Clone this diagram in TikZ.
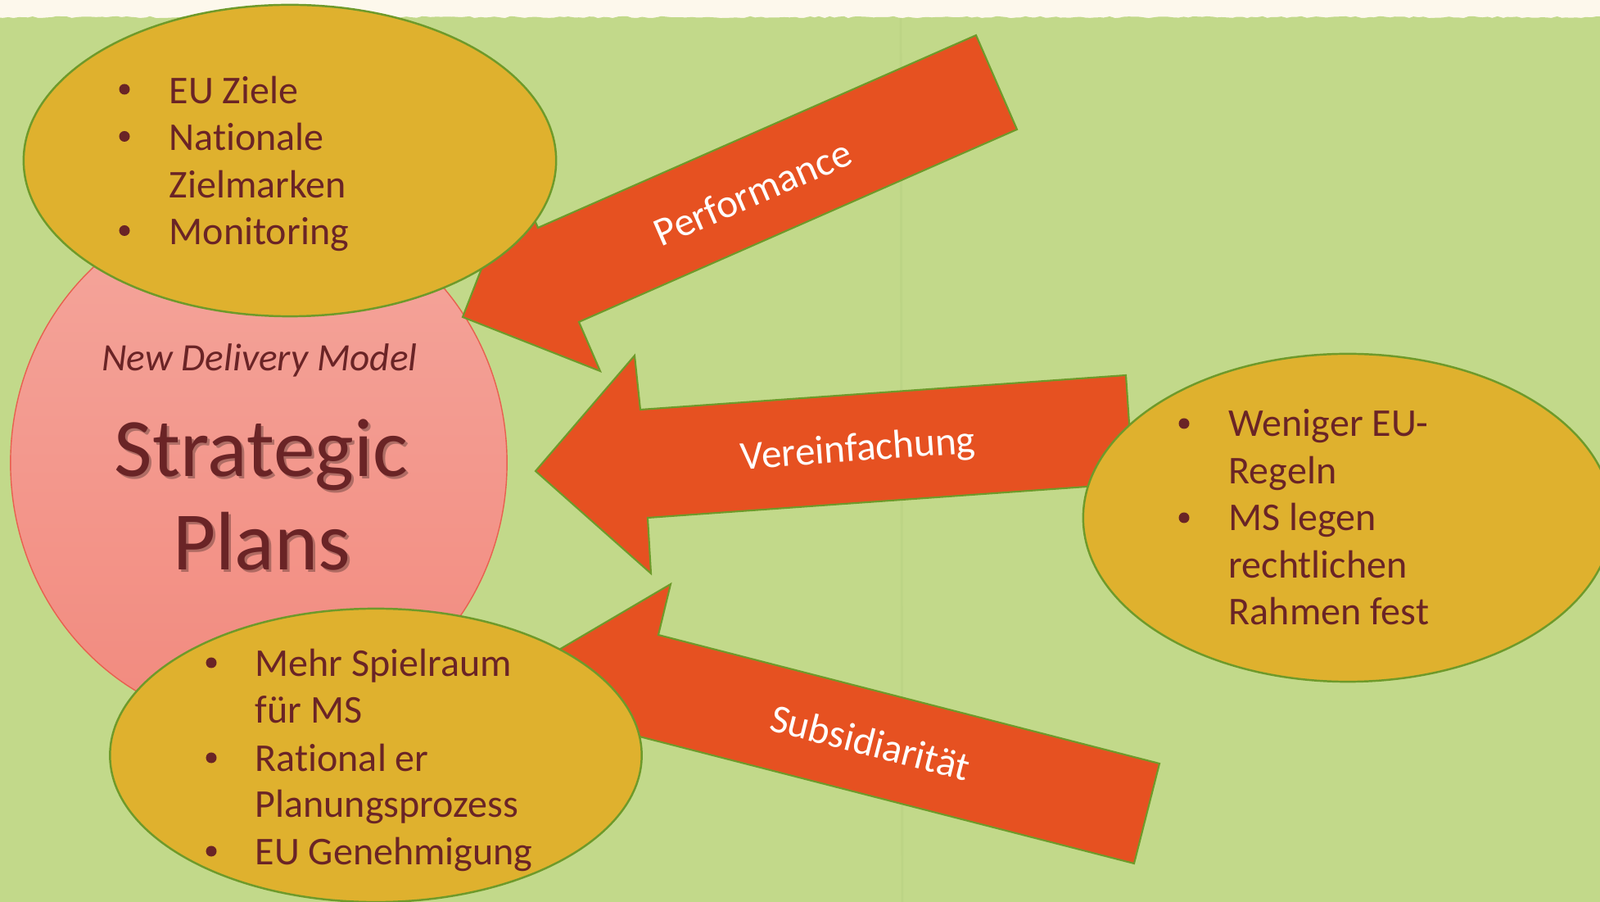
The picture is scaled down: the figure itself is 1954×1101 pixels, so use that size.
\documentclass[tikz,border=0pt]{standalone}
\usepackage{fontspec}
\setmainfont{Carlito}[Ligatures=NoCommon]
\usetikzlibrary{shapes.geometric,decorations.pathmorphing}
\definecolor{bggreen}{HTML}{C2D98A}
\definecolor{bgdark}{HTML}{9DB86A}
\definecolor{creamc}{HTML}{FDF8EC}
\definecolor{yellowc}{HTML}{DFB12E}
\definecolor{olivec}{HTML}{6E9A2A}
\definecolor{arrowc}{HTML}{E65121}
\definecolor{pinktop}{HTML}{F4A69C}
\definecolor{pinkbot}{HTML}{F28A7E}
\definecolor{pinkedge}{HTML}{E8604F}
\definecolor{maroonc}{HTML}{6A2426}
\begin{document}
\begin{tikzpicture}[x=0.01cm,y=-0.01cm,
  ybox/.style={ellipse, draw=olivec, line width=0.7pt, fill=yellowc, inner sep=0pt},
  arrowshape/.style={fill=arrowc, draw=olivec, line width=0.6pt, line join=miter},
  itemtxt/.style={anchor=base west, inner sep=0pt, text=maroonc, font=\fontsize{13.66}{16}\selectfont},
  bul/.style={circle, fill=maroonc, inner sep=0pt, minimum size=0.13cm},
  lbl/.style={inner sep=0pt, text=white, font=\fontsize{14}{16}\selectfont},
  bigtxt/.style={anchor=base, inner sep=0pt, text=maroonc, font=\fontsize{28.8}{32}\selectfont},
  shadowtxt/.style={anchor=base, inner sep=0pt, text=black, opacity=0.28, font=\fontsize{28.8}{32}\selectfont}]

\useasboundingbox (0,0) rectangle (1954,1101);
\clip (0,0) rectangle (1954,1101);
\fill[creamc] (0,0) rectangle (1954,1101);
\fill[bggreen, decorate, decoration={random steps, segment length=0.06cm, amplitude=0.012cm}]
  (-20,21) -- (1974,21) -- (1974,1130) -- (-20,1130) -- cycle;
\draw[bgdark, opacity=0.15, line width=0.8pt] (1100,22) -- (1102,1101);

% pink centre ellipse
\node[ellipse, minimum width=6.06cm, minimum height=6.4cm, inner sep=0pt,
      top color=pinktop, bottom color=pinkbot, draw=pinkedge, line width=0.4pt] (sp) at (316,565) {};

% Performance arrow
\coordinate (pT)  at (565,387);
\coordinate (pLB) at (733,453);
\coordinate (pLJ) at (707,393);
\coordinate (pTB) at (1242,158);
\coordinate (pTT) at (1192,43);
\coordinate (pUJ) at (657,278);
\coordinate (pUB) at (631,218);
\draw[arrowshape] (pT) -- (pLB) -- (pLJ) -- (pTB) -- (pTT) -- (pUJ) -- (pUB) -- cycle;

% Vereinfachung arrow
\coordinate (vT)  at (654,575);
\coordinate (vUB) at (775,434);
\coordinate (vUJ) at (782,500);
\coordinate (vTT) at (1375,458);
\coordinate (vTB) at (1384,590);
\coordinate (vLJ) at (791,632);
\coordinate (vLB) at (795,700);
\draw[arrowshape] (vT) -- (vUB) -- (vUJ) -- (vTT) -- (vTB) -- (vLJ) -- (vLB) -- cycle;

% Subsidiaritaet arrow
\coordinate (sT)  at (664,804);
\coordinate (sUB) at (819,713);
\coordinate (sUJ) at (804,775);
\coordinate (sTT) at (1416,932);
\coordinate (sTB) at (1385,1054);
\coordinate (sLJ) at (773,897);
\coordinate (sLB) at (756,959);
\draw[arrowshape] (sT) -- (sUB) -- (sUJ) -- (sTT) -- (sTB) -- (sLJ) -- (sLB) -- cycle;

% arrow labels
\node[lbl, rotate=23.5] (perf) at (919,235) {Performance};
\node[lbl, rotate=4.1] (verein) at (1048,550) {Vereinfachung};
\node[lbl, rotate=-14.4] (subs) at (1063,906) {Subsidiarität};

% centre texts
\node[anchor=base, inner sep=0pt, text=maroonc, font=\fontsize{13.45}{15}\selectfont\itshape] (ndm) at (317,453) {New Delivery Model};
\node[shadowtxt] (sh1) at (322,585) {Strategic};
\node[shadowtxt] (sh2) at (322.5,699) {Plans};
\node[bigtxt] (st1) at (319,582) {Strategic};
\node[bigtxt] (st2) at (319.5,696) {Plans};

% yellow ellipses
\node[ybox, minimum width=6.5cm, minimum height=3.8cm] (tl) at (354,196) {};
\node[ybox, minimum width=6.46cm, minimum height=4.0cm] (rt) at (1646,632) {};
\node[ybox, minimum width=6.49cm, minimum height=3.58cm] (bt) at (459,922) {};

% top-left texts
\node[bul] (tlb1) at (152,109) {};
\node[bul] (tlb2) at (152,166.5) {};
\node[bul] (tlb3) at (152,281.5) {};
\node[itemtxt] (tlt1) at (206,126.7) {EU Ziele};
\node[itemtxt] (tlt2) at (206,184) {Nationale};
\node[itemtxt] (tlt3) at (206,241.7) {Zielmarken};
\node[itemtxt] (tlt4) at (206,299) {Monitoring};

% right texts
\node[bul] (rtb1) at (1446,517) {};
\node[bul] (rtb2) at (1446,632) {};
\node[itemtxt] (rtt1) at (1500,533) {Weniger EU-};
\node[itemtxt] (rtt2) at (1500,591) {Regeln};
\node[itemtxt] (rtt3) at (1500,648) {MS legen};
\node[itemtxt] (rtt4) at (1500,706) {rechtlichen};
\node[itemtxt] (rtt5) at (1500,763) {Rahmen fest};

% bottom texts
\node[bul] (btb1) at (258,809) {};
\node[bul] (btb2) at (258,925) {};
\node[bul] (btb3) at (258,1039) {};
\node[itemtxt] (btt1) at (311,826) {Mehr Spielraum};
\node[itemtxt] (btt2) at (311,883) {für MS};
\node[itemtxt] (btt3) at (311,942) {Rational er};
\node[itemtxt] (btt4) at (311,998) {Planungsprozess};
\node[itemtxt] (btt5) at (311,1056) {EU Genehmigung};
\end{tikzpicture}
\end{document}
